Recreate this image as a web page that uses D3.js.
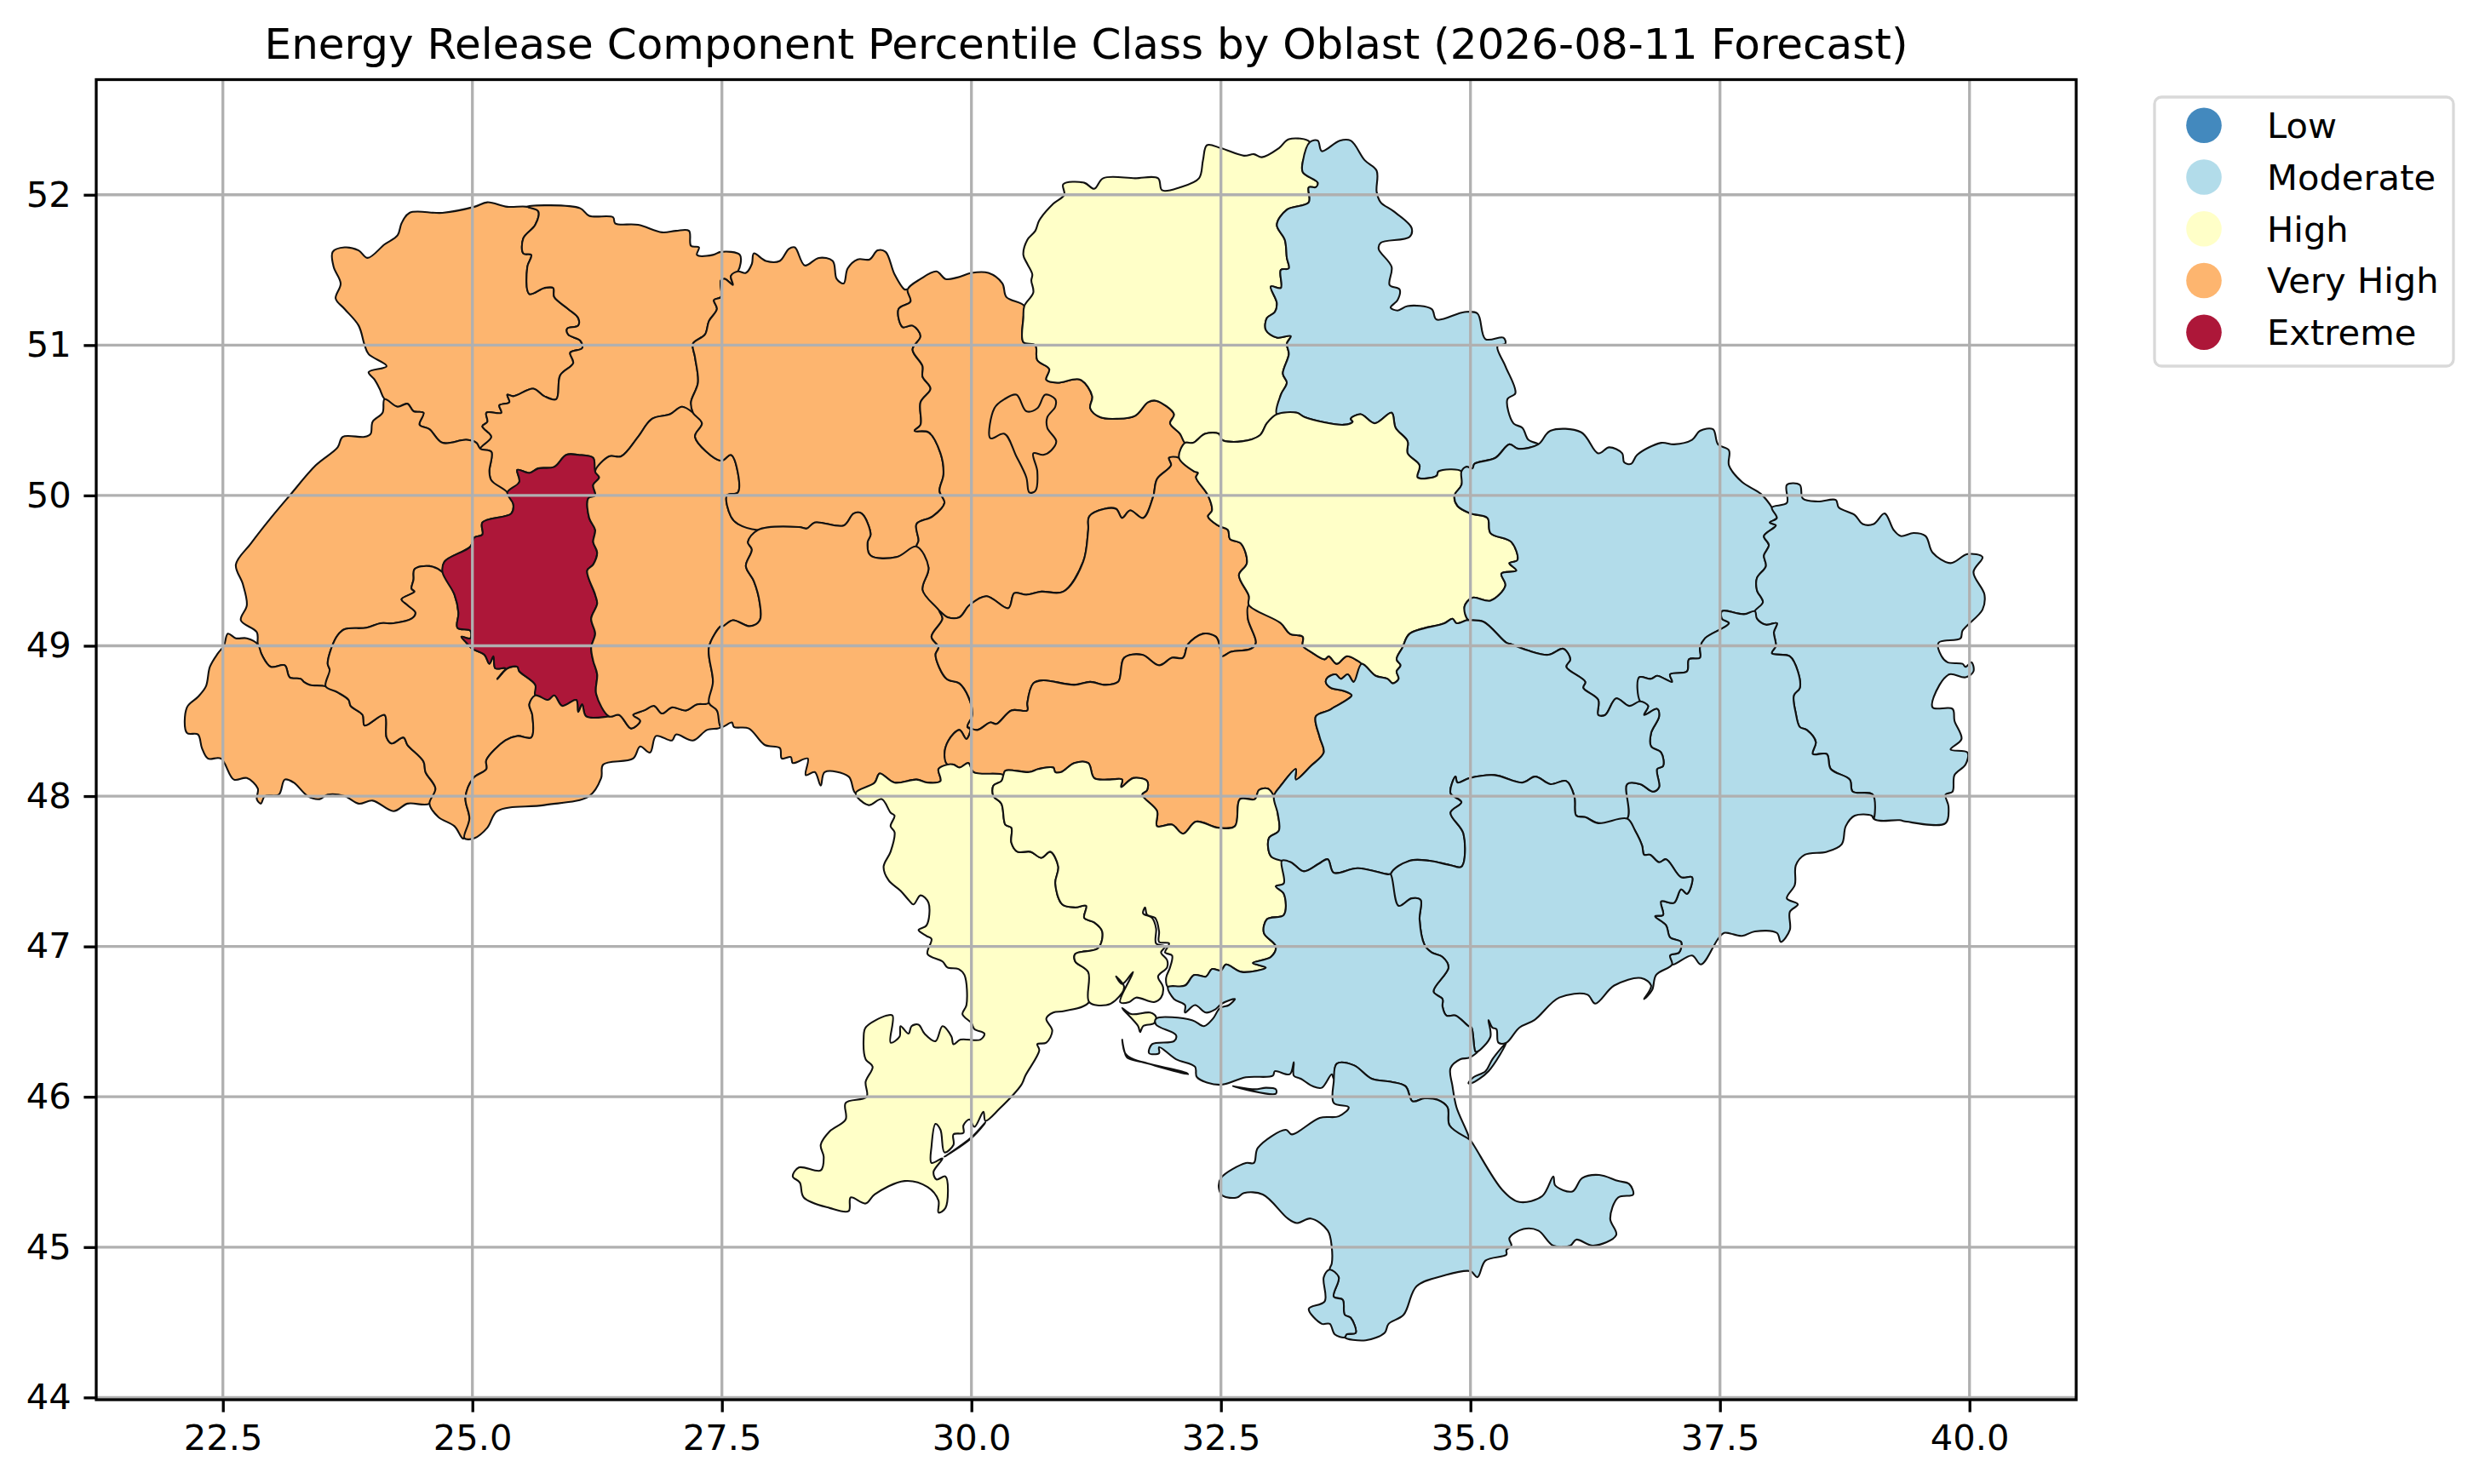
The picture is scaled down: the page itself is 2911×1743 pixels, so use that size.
<!DOCTYPE html>
<html>
<head>
<meta charset="utf-8">
<script src="https://d3js.org/d3.v7.min.js"></script>
<style>
  html, body { margin: 0; padding: 0; background: #fff; }
  svg { display: block; }
  text { font-family: "DejaVu Sans", sans-serif; fill: #000; }
</style>
</head>
<body>
<svg id="chart" width="2911" height="1743"></svg>
<script>
var chartTitle = 'Energy Release Component Percentile Class by Oblast (2026-08-11 Forecast)';
var classNames = ['Low', 'Moderate', 'High', 'Very High', 'Extreme'];
var classColors = ['#4389be', '#b2dcea', '#ffffc8', '#fdb56f', '#ad1739'];
var xTicks = [22.5, 25, 27.5, 30, 32.5, 35, 37.5, 40];
var yTicks = [44, 45, 46, 47, 48, 49, 50, 51, 52];

// borders as [lon, lat], shared between the two oblasts on each side
var volynWest = [[25.55,51.92],[25.35,51.92],[25.15,51.95],[25.02,51.92],[24.70,51.88],[24.37,51.88],[24.29,51.81],[24.25,51.73],[24.12,51.67],[23.95,51.58],[23.86,51.63],[23.72,51.65],[23.60,51.62],[23.61,51.52],[23.68,51.41],[23.63,51.31],[23.72,51.24],[23.86,51.13],[23.92,51.00],[23.96,50.94],[24.14,50.86],[23.96,50.82],[24.02,50.77],[24.07,50.71],[24.12,50.64]];
var volynLviv = [[24.12,50.64],[24.25,50.59],[24.35,50.61],[24.41,50.56],[24.51,50.55],[24.47,50.47],[24.57,50.44],[24.70,50.35],[24.94,50.37],[25.04,50.35],[25.08,50.31]];
var volynRivne = [[25.55,51.92],[25.66,51.89],[25.63,51.80],[25.51,51.71],[25.51,51.61],[25.59,51.60],[25.55,51.52],[25.57,51.34],[25.72,51.38],[25.81,51.38],[25.82,51.32],[25.96,51.24],[26.06,51.18],[26.06,51.13],[25.95,51.11],[25.96,51.07],[26.08,51.03],[26.10,50.98],[25.98,50.95],[26.01,50.88],[25.88,50.80],[25.84,50.64],[25.72,50.66],[25.61,50.71],[25.41,50.66],[25.35,50.67],[25.37,50.62],[25.27,50.60],[25.29,50.55],[25.14,50.55],[25.15,50.49],[25.10,50.46],[25.19,50.39],[25.08,50.31]];
var rivneNorth = [[25.55,51.92],[25.76,51.93],[26.08,51.91],[26.17,51.86],[26.41,51.85],[26.43,51.81],[26.66,51.80],[26.90,51.75],[27.04,51.76],[27.17,51.76],[27.19,51.66],[27.27,51.65],[27.25,51.60],[27.41,51.60],[27.49,51.62],[27.68,51.60],[27.66,51.49]];
var rivneZhytomyr = [[27.66,51.49],[27.59,51.46],[27.61,51.40],[27.53,51.44],[27.49,51.43],[27.49,51.32],[27.42,51.30],[27.45,51.24],[27.37,51.16],[27.33,51.07],[27.21,51.01],[27.23,50.92],[27.26,50.75],[27.19,50.62],[27.21,50.55]];
var rivneLviv = [[25.08,50.31],[25.19,50.29],[25.17,50.16],[25.19,50.10],[25.35,50.02]];
var rivneTernopil = [[25.35,50.02],[25.47,50.09],[25.45,50.17],[25.57,50.15],[25.66,50.18],[25.82,50.19],[25.94,50.27],[26.06,50.27],[26.21,50.25],[26.23,50.16]];
var rivneKhmelnytskyi = [[26.23,50.16],[26.37,50.26],[26.49,50.26],[26.66,50.39],[26.80,50.51],[26.98,50.54],[27.10,50.59],[27.21,50.55]];
var lvivWest = [[24.12,50.64],[24.10,50.55],[24.00,50.49],[23.98,50.41],[23.92,50.39],[23.70,50.39],[23.65,50.32],[23.43,50.20],[23.17,50.00],[22.98,49.85],[22.78,49.68],[22.63,49.54],[22.70,49.41],[22.74,49.27],[22.68,49.17],[22.84,49.09],[22.85,49.01]];
var lvivZakarpattia = [[22.85,49.01],[22.89,48.94],[22.98,48.86],[23.12,48.87],[23.17,48.79],[23.28,48.78],[23.31,48.76],[23.37,48.74],[23.53,48.73]];
var lvivFrankivsk = [[23.53,48.73],[23.57,48.84],[23.55,48.88],[23.59,48.99],[23.65,49.07],[23.72,49.11],[23.94,49.12],[24.08,49.15],[24.21,49.15],[24.39,49.18],[24.43,49.22],[24.35,49.27],[24.29,49.31],[24.42,49.36],[24.39,49.38],[24.41,49.44],[24.42,49.51],[24.57,49.53],[24.70,49.49]];
var lvivTernopil = [[25.35,50.02],[25.41,49.94],[25.39,49.88],[25.10,49.82],[25.10,49.74],[25.02,49.72],[24.98,49.66],[24.72,49.56],[24.70,49.49]];
var zakarpattiaOuter = [[22.85,49.01],[22.74,49.05],[22.63,49.05],[22.55,49.08],[22.51,49.00],[22.45,48.95],[22.37,48.86],[22.33,48.73],[22.25,48.66],[22.14,48.59],[22.14,48.42],[22.25,48.41],[22.29,48.32],[22.35,48.25],[22.48,48.25],[22.61,48.11],[22.74,48.12],[22.85,48.05],[22.84,47.98],[22.88,47.95],[22.92,48.00],[23.06,48.01],[23.12,48.11],[23.21,48.09],[23.35,48.00],[23.47,47.98],[23.55,48.01],[23.72,48.00],[23.86,47.95],[24.00,47.97],[24.21,47.90],[24.35,47.95],[24.57,47.95]];
var zakarpattiaFrankivsk = [[23.53,48.73],[23.65,48.69],[23.76,48.64],[23.78,48.60],[23.90,48.54],[23.92,48.47],[24.12,48.54],[24.14,48.39],[24.19,48.35],[24.31,48.39],[24.35,48.34],[24.51,48.23],[24.53,48.16],[24.63,48.05],[24.57,47.95]];
var frankivskSouth = [[24.57,47.95],[24.66,47.86],[24.82,47.80],[24.90,47.72],[24.92,47.72]];
var frankivskChernivtsi = [[24.92,47.72],[24.97,47.85],[24.93,47.99],[25.01,48.12],[25.14,48.18],[25.14,48.24],[25.33,48.37],[25.45,48.40],[25.59,48.39],[25.60,48.54],[25.57,48.61],[25.63,48.67]];
var frankivskTernopil = [[24.70,49.49],[24.82,49.34],[24.86,49.22],[24.85,49.12],[24.98,49.10],[24.98,49.05],[24.89,49.06],[24.94,49.02],[25.00,48.98],[25.12,48.94],[25.17,48.88],[25.21,48.93],[25.23,48.85],[25.33,48.85],[25.25,48.78],[25.35,48.85],[25.45,48.86],[25.47,48.83],[25.63,48.74],[25.63,48.67]];
var ternopilKhmelnytskyi = [[26.23,50.16],[26.27,50.12],[26.21,50.07],[26.23,50.00],[26.16,49.98],[26.17,49.85],[26.23,49.77],[26.21,49.69],[26.25,49.62],[26.21,49.54],[26.15,49.50],[26.23,49.34],[26.25,49.28],[26.19,49.18],[26.23,49.08],[26.19,48.99],[26.21,48.90],[26.25,48.81],[26.24,48.68],[26.37,48.53]];
var ternopilChernivtsi = [[25.63,48.67],[25.76,48.64],[25.82,48.67],[25.90,48.60],[26.04,48.64],[26.06,48.56],[26.10,48.61],[26.14,48.53],[26.37,48.53]];
var chernivtsiKhmelnytskyi = [[26.37,48.53],[26.47,48.54],[26.59,48.45],[26.68,48.50],[26.61,48.54],[26.72,48.57],[26.82,48.60],[26.90,48.55],[27.00,48.59],[27.14,48.57],[27.25,48.61],[27.37,48.62]];
var chernivtsiVinnytsia = [[27.37,48.62],[27.45,48.57],[27.49,48.46]];
var chernivtsiSouth = [[27.49,48.46],[27.35,48.44],[27.21,48.37],[27.04,48.41],[27.00,48.37],[26.84,48.40],[26.78,48.29],[26.68,48.33],[26.61,48.25],[26.31,48.21],[26.29,48.12],[26.17,48.00],[25.72,47.94],[25.25,47.90],[25.15,47.79],[25.02,47.72],[24.92,47.72]];
var khmelnytskyiZhytomyr = [[27.21,50.55],[27.30,50.48],[27.23,50.39],[27.49,50.23],[27.59,50.27],[27.66,50.15],[27.66,50.02],[27.55,50.00],[27.59,49.86],[27.66,49.81],[27.86,49.77]];
var khmelnytskyiVinnytsia = [[27.86,49.77],[27.76,49.69],[27.80,49.64],[27.74,49.53],[27.82,49.43],[27.88,49.28],[27.88,49.17],[27.78,49.13],[27.61,49.17],[27.51,49.13],[27.49,49.13],[27.37,48.99],[27.41,48.76],[27.37,48.62]];
var zhytomyrNorth = [[27.66,51.49],[27.74,51.48],[27.80,51.54],[27.82,51.61],[27.94,51.56],[28.08,51.56],[28.17,51.64],[28.23,51.65],[28.33,51.53],[28.47,51.58],[28.61,51.56],[28.65,51.44],[28.72,51.41],[28.76,51.51],[28.86,51.57],[28.98,51.57],[29.06,51.63],[29.14,51.62],[29.23,51.47],[29.33,51.37],[29.36,51.37]];
var kyivNorth = [[29.36,51.37],[29.49,51.44],[29.65,51.49],[29.74,51.44],[29.86,51.45],[30.00,51.48],[30.17,51.48],[30.31,51.41],[30.35,51.32],[30.53,51.26]];
var zhytomyrKyiv = [[29.36,51.37],[29.39,51.29],[29.27,51.24],[29.31,51.12],[29.41,51.13],[29.49,51.06],[29.41,50.97],[29.51,50.86],[29.51,50.79],[29.59,50.71],[29.49,50.62],[29.49,50.47],[29.43,50.43],[29.57,50.42],[29.69,50.28],[29.72,50.14],[29.68,50.03],[29.73,49.95],[29.61,49.86],[29.45,49.81],[29.47,49.70],[29.45,49.66]];
var zhytomyrVinnytsia = [[27.86,49.77],[28.27,49.79],[28.35,49.78],[28.43,49.82],[28.72,49.80],[28.82,49.88],[28.90,49.88],[28.99,49.74],[28.96,49.69],[28.99,49.60],[29.25,49.59],[29.45,49.66]];
var kyivVinnytsia = [[29.45,49.66],[29.57,49.52],[29.51,49.37],[29.68,49.23]];
var kyivCherkasy = [[29.68,49.23],[29.76,49.19],[29.88,49.19],[29.98,49.27],[30.15,49.33],[30.37,49.25],[30.43,49.35],[30.55,49.34],[30.70,49.36],[30.92,49.36],[31.12,49.56],[31.17,49.77],[31.18,49.86],[31.33,49.91],[31.45,49.91],[31.51,49.85],[31.59,49.90],[31.72,49.85],[31.82,49.99],[31.86,50.11],[32.00,50.20],[31.98,50.25],[32.08,50.25]];
var cherkasyPoltava = [[32.08,50.25],[32.23,50.16],[32.27,50.15],[32.25,50.12],[32.37,50.00],[32.41,49.90],[32.37,49.86],[32.47,49.80],[32.57,49.77],[32.59,49.71],[32.70,49.68],[32.76,49.55],[32.68,49.47],[32.78,49.33],[32.78,49.27]];
var vinnytsiaCherkasy = [[29.68,49.23],[29.71,49.18],[29.60,49.06],[29.67,48.99],[29.64,48.94],[29.75,48.78],[29.88,48.75],[29.97,48.66],[30.01,48.54],[29.96,48.46]];
var cherkasyKirovohrad = [[29.96,48.46],[30.06,48.44],[30.19,48.49],[30.25,48.48],[30.40,48.57],[30.56,48.57],[30.56,48.62],[30.62,48.75],[30.71,48.77],[31.03,48.74],[31.19,48.76],[31.34,48.74],[31.47,48.76],[31.53,48.92],[31.71,48.94],[31.88,48.87],[32.01,48.92],[32.12,48.92],[32.17,49.01],[32.32,49.08],[32.45,49.06],[32.49,48.99],[32.51,48.93],[32.60,48.96],[32.80,48.98],[32.85,49.02],[32.77,49.18],[32.78,49.27]];
var kirovohradPoltava = [[32.78,49.27],[33.10,49.15],[33.19,49.08],[33.32,49.06],[33.32,49.00],[33.40,48.96],[33.54,48.91],[33.58,48.93],[33.66,48.88],[33.76,48.93],[33.87,48.90],[33.91,48.88]];
var kirovohradDnipro = [[33.91,48.88],[33.83,48.76],[33.77,48.81],[33.70,48.78],[33.65,48.81],[33.57,48.79],[33.55,48.76],[33.60,48.72],[33.73,48.70],[33.81,48.67],[33.71,48.62],[33.63,48.59],[33.58,48.57],[33.45,48.53],[33.49,48.39],[33.53,48.29],[33.40,48.20],[33.25,48.11],[33.25,48.18],[33.10,48.07],[33.03,48.00]];
var vinnytsiaSouth = [[27.49,48.46],[27.60,48.49],[27.62,48.46],[27.77,48.45],[27.93,48.34],[28.08,48.32],[28.10,48.25],[28.19,48.26],[28.21,48.22],[28.36,48.25],[28.34,48.14],[28.43,48.16],[28.49,48.07],[28.53,48.16],[28.77,48.13],[28.84,48.02]];
var vinnytsiaOdesa = [[28.84,48.02],[29.03,48.09],[29.08,48.15],[29.23,48.09],[29.45,48.11],[29.56,48.09],[29.69,48.10],[29.67,48.18],[29.76,48.21]];
var vinnytsiaKirovohrad = [[29.76,48.21],[29.73,48.27],[29.77,48.37],[29.88,48.44],[29.95,48.38],[29.99,48.45],[29.96,48.46]];
var odesaKirovohrad = [[29.76,48.21],[29.82,48.21],[29.88,48.19],[29.97,48.22],[30.02,48.16],[30.32,48.14]];
var kirovohradMykolaiv = [[30.32,48.14],[30.34,48.17],[30.58,48.16],[30.67,48.18],[30.82,48.19],[30.84,48.16],[30.90,48.16],[31.03,48.22],[31.17,48.22],[31.23,48.12],[31.38,48.11],[31.51,48.11],[31.50,48.06],[31.62,48.12],[31.76,48.10],[31.76,48.04],[31.71,48.01],[31.86,47.90],[31.86,47.80],[32.01,47.81],[32.12,47.75],[32.25,47.83],[32.47,47.79],[32.64,47.80],[32.69,47.98],[32.84,47.98],[32.88,48.04],[32.97,48.05],[33.03,48.00]];
var odesaMykolaiv = [[30.32,48.14],[30.30,48.10],[30.22,48.07],[30.22,48.00],[30.30,47.95],[30.34,47.81],[30.40,47.79],[30.40,47.69],[30.46,47.63],[30.59,47.63],[30.70,47.59],[30.79,47.63],[30.87,47.53],[30.84,47.42],[30.91,47.28],[31.04,47.26],[31.15,47.27],[31.13,47.19],[31.23,47.16],[31.31,47.10],[31.27,46.99],[31.04,46.95],[31.04,46.90],[31.17,46.83],[31.18,46.63]];
var odesaOuter = [[28.84,48.02],[28.97,47.94],[29.10,47.98],[29.19,47.89],[29.23,47.87],[29.19,47.80],[29.23,47.76],[29.19,47.63],[29.12,47.53],[29.17,47.44],[29.29,47.37],[29.37,47.31],[29.42,47.28],[29.49,47.34],[29.57,47.29],[29.55,47.14],[29.47,47.11],[29.55,47.07],[29.60,47.05],[29.56,46.95],[29.71,46.90],[29.76,46.86],[29.87,46.85],[29.93,46.81],[29.95,46.61],[29.91,46.55],[30.00,46.49],[30.03,46.45],[30.13,46.42],[30.09,46.38],[29.89,46.38],[29.82,46.35],[29.80,46.40],[29.71,46.47],[29.64,46.37],[29.53,46.42],[29.47,46.48],[29.40,46.47],[29.37,46.42],[29.29,46.47],[29.28,46.40],[29.19,46.36],[29.21,46.54],[29.15,46.54],[28.94,46.46],[28.92,46.39],[28.94,46.25],[29.01,46.20],[28.94,46.10],[28.95,46.00],[28.74,45.96],[28.74,45.85],[28.58,45.77],[28.49,45.68],[28.52,45.60],[28.49,45.51],[28.27,45.53],[28.21,45.47],[28.28,45.43],[28.32,45.33],[28.58,45.26],[28.77,45.24],[28.79,45.33],[28.94,45.29],[29.03,45.35],[29.33,45.44],[29.56,45.40],[29.67,45.31],[29.67,45.23],[29.74,45.26],[29.74,45.47],[29.65,45.45],[29.62,45.50],[29.71,45.59],[29.60,45.56],[29.60,45.67],[29.64,45.82],[29.69,45.78],[29.73,45.63],[29.82,45.68],[29.82,45.75],[29.92,45.76],[29.92,45.81],[29.98,45.85],[30.03,45.80],[30.12,45.90],[30.14,45.84],[30.28,45.92],[30.50,46.08],[30.54,46.14],[30.68,46.31],[30.66,46.35],[30.75,46.36],[30.81,46.44],[30.75,46.52],[30.82,46.56],[30.93,46.57],[31.18,46.63]];
var odesaSpit = [[29.73,45.60],[30.00,45.73],[30.14,45.83],[30.13,45.82],[29.99,45.72]];
var mykolaivCoast = [[31.18,46.63],[31.35,46.61],[31.44,46.64],[31.53,46.73],[31.45,46.80],[31.51,46.75],[31.62,46.83],[31.49,46.63],[31.58,46.63],[31.65,46.66],[31.83,46.63],[31.90,46.66],[31.92,46.73],[31.87,46.80],[31.96,46.86],[31.96,46.91],[31.90,46.96],[31.94,47.00],[31.85,47.02],[31.85,47.12],[31.81,47.19],[31.72,47.22],[31.74,47.26],[31.76,47.21],[31.84,47.19],[31.88,47.10],[31.88,47.03],[31.98,47.02],[31.94,46.96],[32.01,46.94],[31.99,46.86],[31.95,46.79],[31.97,46.73]];
var mykolaivKherson = [[31.97,46.73],[32.14,46.74],[32.23,46.81],[32.35,46.80],[32.41,46.85],[32.50,46.84],[32.55,46.88],[32.71,46.83],[32.95,46.86],[32.82,46.89],[33.00,46.93],[33.05,47.00],[32.93,47.09],[32.96,47.18],[33.13,47.21],[33.13,47.35],[33.05,47.40],[33.13,47.42],[33.11,47.57]];
var mykolaivDnipro = [[33.03,48.00],[33.07,47.88],[33.08,47.77],[32.98,47.72],[33.00,47.60],[33.11,47.57]];
var dniproKherson = [[33.11,47.57],[33.20,47.56],[33.33,47.50],[33.48,47.55],[33.57,47.58],[33.63,47.49],[33.87,47.52],[34.17,47.48],[34.20,47.48]];
var dniproZaporizhzhia = [[34.20,47.48],[34.39,47.57],[34.59,47.57],[34.80,47.54],[34.91,47.53],[34.93,47.75],[34.80,47.89],[34.91,47.96],[34.80,48.02],[34.85,48.13],[34.87,48.09],[34.99,48.12],[35.24,48.14],[35.52,48.09],[35.65,48.13],[35.80,48.08],[35.96,48.10],[36.04,48.00],[36.06,47.87],[36.15,47.86],[36.28,47.82],[36.57,47.85]];
var dniproDonetsk = [[36.57,47.85],[36.57,48.08],[36.70,48.08],[36.83,48.03],[36.89,48.06],[36.87,48.18],[36.93,48.20],[36.91,48.29],[36.81,48.33],[36.81,48.42],[36.89,48.53],[36.87,48.58],[36.74,48.54],[36.78,48.60],[36.70,48.63]];
var kharkivDnipro = [[34.98,49.17],[35.13,49.16],[35.36,49.02],[35.41,49.01],[35.57,48.97],[35.78,48.94],[35.93,48.98],[36.00,48.91],[35.96,48.86],[36.15,48.76],[36.13,48.72],[36.28,48.64],[36.28,48.54],[36.35,48.54],[36.46,48.65],[36.59,48.60],[36.70,48.63]];
var kharkivDonetsk = [[36.70,48.63],[36.69,48.79],[36.81,48.78],[36.87,48.80],[37.02,48.76],[37.00,48.81],[37.17,48.83],[37.19,48.91],[37.30,48.92],[37.30,48.99],[37.35,49.05],[37.59,49.15],[37.52,49.18],[37.52,49.23],[37.74,49.21],[37.85,49.23]];
var kharkivLuhansk = [[37.85,49.23],[37.93,49.29],[37.87,49.37],[37.87,49.45],[37.96,49.53],[37.94,49.60],[37.99,49.67],[37.94,49.73],[38.06,49.80],[38.00,49.82],[38.07,49.85],[38.02,49.92]];
var kharkivNorth = [[35.68,50.34],[35.80,50.43],[36.11,50.42],[36.28,50.28],[36.39,50.32],[36.52,50.28],[36.54,50.22],[36.61,50.21],[36.67,50.27],[36.91,50.35],[37.04,50.34],[37.22,50.37],[37.30,50.43],[37.43,50.44],[37.48,50.34],[37.59,50.30],[37.59,50.20],[37.72,50.09],[37.91,50.01],[38.02,49.92]];
var sumyKharkiv = [[34.91,50.16],[34.96,50.19],[35.02,50.18],[35.04,50.21],[35.25,50.25],[35.39,50.34],[35.48,50.31],[35.68,50.34]];
var poltavaKharkiv = [[34.91,50.16],[34.91,50.07],[34.84,50.00],[34.87,49.93],[35.00,49.88],[35.17,49.85],[35.20,49.75],[35.41,49.69],[35.47,49.57],[35.39,49.55],[35.46,49.50],[35.31,49.48],[35.35,49.40],[35.20,49.30],[35.02,49.32],[34.94,49.26],[34.98,49.17]];
var poltavaDnipro = [[33.91,48.88],[34.05,48.80],[34.17,48.78],[34.22,48.75],[34.28,48.78],[34.26,48.83],[34.30,48.87],[34.26,48.91],[34.32,48.99],[34.39,49.08],[34.74,49.15],[34.82,49.18],[34.86,49.15],[34.96,49.17],[34.98,49.17]];
var sumyPoltava = [[33.06,50.54],[33.26,50.55],[33.34,50.52],[33.73,50.47],[33.82,50.49],[33.80,50.51],[33.90,50.54],[34.04,50.48],[34.21,50.55],[34.25,50.45],[34.37,50.36],[34.37,50.28],[34.49,50.20],[34.47,50.12],[34.66,50.13],[34.68,50.16],[34.91,50.16]];
var chernihivPoltava = [[32.14,50.35],[32.22,50.35],[32.34,50.41],[32.48,50.41],[32.51,50.37],[32.71,50.36],[32.89,50.40],[32.96,50.48],[33.06,50.54]];
var kyivChernihiv = [[30.53,51.26],[30.52,51.18],[30.52,51.02],[30.64,51.00],[30.66,50.90],[30.78,50.84],[30.75,50.77],[30.86,50.75],[31.09,50.77],[31.21,50.66],[31.19,50.58],[31.29,50.52],[31.46,50.51],[31.64,50.53],[31.77,50.62],[31.85,50.63],[32.03,50.54],[31.99,50.48],[32.09,50.41],[32.14,50.35]];
var kyivPoltava = [[32.14,50.35],[32.08,50.25]];
var chernihivOuter = [[30.53,51.26],[30.62,51.35],[30.60,51.43],[30.61,51.47],[30.56,51.54],[30.52,51.60],[30.56,51.70],[30.64,51.76],[30.68,51.83],[30.82,51.94],[30.93,52.00],[30.92,52.07],[31.13,52.08],[31.23,52.04],[31.32,52.11],[31.64,52.11],[31.87,52.11],[31.91,52.03],[32.09,52.05],[32.28,52.11],[32.32,52.23],[32.36,52.33],[32.50,52.31],[32.73,52.26],[32.83,52.27],[32.91,52.25],[33.08,52.31],[33.18,52.37],[33.39,52.35]];
var chernihivSumy = [[33.39,52.35],[33.32,52.22],[33.32,52.15],[33.47,52.08],[33.45,52.05],[33.38,52.05],[33.38,51.95],[33.16,51.90],[33.06,51.80],[33.14,51.70],[33.16,51.58],[33.18,51.51],[33.10,51.50],[33.10,51.38],[33.00,51.39],[33.06,51.28],[33.04,51.22],[32.96,51.18],[32.95,51.10],[33.06,51.05],[33.20,51.06],[33.16,51.01],[33.18,50.94],[33.12,50.81],[33.16,50.75],[33.10,50.67],[33.06,50.54]];
var sumyOuter = [[33.39,52.35],[33.47,52.36],[33.51,52.29],[33.69,52.36],[33.80,52.36],[33.94,52.23],[34.06,52.16],[34.06,52.02],[34.10,51.95],[34.23,51.89],[34.41,51.78],[34.39,51.72],[34.10,51.68],[34.08,51.64],[34.21,51.52],[34.19,51.40],[34.29,51.37],[34.27,51.30],[34.20,51.25],[34.27,51.23],[34.37,51.26],[34.61,51.24],[34.66,51.17],[34.94,51.22],[35.07,51.21],[35.15,51.04],[35.33,51.05],[35.35,51.01],[35.27,50.99],[35.35,50.86],[35.45,50.68],[35.37,50.64],[35.43,50.48],[35.52,50.45],[35.58,50.37],[35.68,50.34]];
var luhanskOuter = [[38.02,49.92],[38.17,49.95],[38.17,50.07],[38.30,50.07],[38.33,49.98],[38.48,49.96],[38.66,49.97],[38.69,49.92],[38.85,49.87],[38.93,49.81],[39.04,49.81],[39.15,49.88],[39.24,49.77],[39.31,49.73],[39.44,49.75],[39.56,49.73],[39.63,49.62],[39.81,49.55],[39.98,49.61],[40.13,49.59],[40.04,49.49],[40.15,49.34],[40.13,49.24],[39.93,49.10],[39.91,49.05],[39.69,49.02],[39.72,48.93],[39.78,48.89],[39.93,48.88],[39.96,48.86],[40.02,48.89],[40.04,48.83],[39.96,48.79],[39.80,48.81],[39.70,48.74],[39.63,48.59],[39.83,48.58],[39.85,48.50],[39.92,48.38],[39.81,48.31],[39.98,48.29],[39.96,48.21],[39.85,48.14],[39.83,48.03],[39.76,48.01],[39.79,47.93],[39.76,47.82],[39.37,47.83],[39.30,47.84],[39.04,47.85]];
var luhanskDonetsk = [[37.85,49.23],[37.87,49.18],[37.96,49.14],[38.07,49.15],[38.04,49.09],[38.06,49.00],[38.02,48.95],[38.20,48.93],[38.28,48.83],[38.30,48.72],[38.24,48.67],[38.26,48.55],[38.30,48.46],[38.37,48.44],[38.46,48.36],[38.43,48.28],[38.57,48.28],[38.61,48.18],[38.80,48.11],[38.83,48.03],[39.03,48.01],[39.04,47.85]];
var donetskZaporizhzhia = [[36.57,47.85],[36.65,47.77],[36.72,47.67],[36.74,47.61],[36.80,47.61],[36.89,47.56],[36.96,47.58],[37.11,47.46],[37.22,47.46],[37.17,47.35],[37.11,47.38],[37.04,47.29],[36.91,47.30],[36.93,47.21],[36.85,47.20],[36.96,47.14],[37.00,47.06],[37.11,47.03],[37.09,46.96],[37.00,46.94],[37.02,46.88]];
var donetskCoast = [[37.02,46.88],[37.22,46.94],[37.31,46.88],[37.48,47.05],[37.54,47.09],[37.72,47.07],[37.85,47.10],[38.07,47.09],[38.11,47.03],[38.20,47.11],[38.20,47.23],[38.28,47.28],[38.17,47.32],[38.25,47.41],[38.26,47.54],[38.35,47.61],[38.57,47.63],[38.72,47.68],[38.76,47.80],[38.85,47.87],[39.02,47.87],[39.04,47.85]];
var zaporizhzhiaCoast = [[35.07,46.30],[35.20,46.40],[35.18,46.51],[35.22,46.46],[35.26,46.45],[35.28,46.36],[35.36,46.36],[35.49,46.46],[35.64,46.51],[35.89,46.66],[36.17,46.68],[36.25,46.62],[36.44,46.74],[36.71,46.79],[36.81,46.74],[36.74,46.65],[36.82,46.71],[36.86,46.81],[37.02,46.88]];
var khersonZaporizhzhia = [[34.20,47.48],[34.28,47.27],[34.41,47.32],[34.50,47.31],[34.49,47.18],[34.54,47.01],[34.61,46.96],[34.72,46.93],[34.78,46.86],[34.63,46.70],[34.72,46.65],[34.72,46.60],[34.76,46.54],[34.85,46.54],[34.98,46.47],[35.01,46.46],[35.05,46.30],[35.07,46.30]];
var khersonSivash = [[35.07,46.30],[34.99,46.26],[34.90,46.25],[34.80,46.19],[34.82,46.07],[34.86,45.93],[34.98,45.72]];
var khersonCrimea = [[33.66,46.22],[33.83,46.21],[34.01,46.12],[34.20,46.10],[34.35,46.07],[34.42,45.97],[34.54,45.99],[34.67,45.98],[34.77,45.93],[34.79,45.81],[34.98,45.72]];
var khersonCoast = [[31.97,46.73],[32.03,46.65],[32.14,46.61],[32.14,46.56],[32.24,46.61],[32.35,46.56],[32.44,46.58],[32.51,46.62],[32.64,46.65],[32.58,46.61],[32.49,46.59],[32.42,46.52],[32.33,46.47],[32.21,46.51],[31.85,46.52],[31.85,46.48],[32.05,46.41],[32.03,46.37],[31.81,46.35],[31.78,46.29],[31.88,46.29],[31.88,46.33],[32.05,46.25],[32.24,46.20],[32.26,46.13],[32.49,46.08],[32.75,46.13],[33.02,46.14],[33.04,46.17],[33.19,46.15],[33.23,46.23],[33.23,46.14],[33.30,46.12],[33.42,46.07],[33.51,46.06],[33.61,46.15],[33.63,46.12],[33.66,46.22]];
var crimeaEast = [[34.98,45.72],[35.00,45.71],[35.32,45.38],[35.49,45.30],[35.72,45.34],[35.83,45.47],[35.85,45.41],[36.02,45.37],[36.12,45.46],[36.29,45.48],[36.48,45.44],[36.59,45.42],[36.63,45.35],[36.48,45.33],[36.40,45.19],[36.46,45.08],[36.23,45.01],[36.06,45.05],[36.00,45.01],[35.83,45.01],[35.68,45.11],[35.53,45.12],[35.39,45.06],[35.41,45.01],[35.36,44.98],[35.36,44.95],[35.15,44.91],[35.07,44.80],[35.00,44.84],[34.73,44.81],[34.46,44.74],[34.33,44.55],[34.18,44.49],[34.14,44.43],[33.95,44.38],[33.74,44.40]];
var crimeaSevastopol = [[33.74,44.40],[33.76,44.42],[33.85,44.43],[33.80,44.53],[33.74,44.55],[33.72,44.65],[33.63,44.67],[33.68,44.80],[33.59,44.85]];
var crimeaWest = [[33.59,44.85],[33.61,44.89],[33.61,45.00],[33.57,45.11],[33.40,45.19],[33.26,45.16],[33.17,45.19],[32.92,45.35],[32.73,45.36],[32.66,45.33],[32.52,45.34],[32.48,45.39],[32.50,45.46],[32.75,45.56],[32.83,45.56],[32.87,45.66],[33.15,45.78],[33.21,45.75],[33.49,45.86],[33.68,45.87],[33.78,45.93],[33.63,45.96],[33.63,46.10],[33.66,46.22]];
var sevastopolWest = [[33.59,44.85],[33.53,44.80],[33.54,44.64],[33.38,44.59],[33.51,44.49],[33.59,44.49],[33.64,44.42],[33.74,44.40]];
var kyivCity = [[30.33,50.64],[30.45,50.67],[30.55,50.56],[30.66,50.58],[30.74,50.67],[30.84,50.64],[30.84,50.59],[30.76,50.52],[30.76,50.45],[30.85,50.36],[30.80,50.30],[30.72,50.27],[30.62,50.28],[30.66,50.16],[30.64,50.03],[30.58,50.02],[30.55,50.12],[30.45,50.26],[30.33,50.41],[30.19,50.38],[30.23,50.58]];
var kinburn = [[31.51,46.59],[31.60,46.55],[31.79,46.56],[31.85,46.53],[31.83,46.49],[31.72,46.47],[31.69,46.43],[31.67,46.47]];
var tendraSpit = [[31.51,46.38],[31.54,46.29],[31.62,46.25],[32.15,46.16],[32.17,46.15],[31.72,46.23],[31.56,46.26],[31.53,46.31]];
var dzharylhach = [[32.62,46.07],[32.84,46.05],[32.95,46.06],[33.05,46.05],[33.05,46.02]];
var henicheskSpit = [[35.36,46.36],[35.22,46.25],[35.15,46.17],[35.03,46.13],[34.98,46.09],[35.01,46.09],[35.18,46.17]];

function rev(a) { return a.slice().reverse(); }

// each oblast: name, class index into classNames, rings made of the borders above
var oblasts = [
   ['Volyn', 3, [[volynWest, volynLviv, rev(volynRivne)]]],
   ['Rivne', 3, [[rivneNorth, rivneZhytomyr, rev(rivneKhmelnytskyi), rev(rivneTernopil), rev(rivneLviv), rev(volynRivne)]]],
   ['Lviv', 3, [[lvivWest, lvivZakarpattia, lvivFrankivsk, rev(lvivTernopil), rev(rivneLviv), rev(volynLviv)]]],
   ['Zakarpattia', 3, [[zakarpattiaOuter, rev(zakarpattiaFrankivsk), rev(lvivZakarpattia)]]],
   ['Ivano-Frankivsk', 3, [[zakarpattiaFrankivsk, frankivskSouth, frankivskChernivtsi, rev(frankivskTernopil), rev(lvivFrankivsk)]]],
   ['Ternopil', 4, [[rivneTernopil, ternopilKhmelnytskyi, rev(ternopilChernivtsi), rev(frankivskTernopil), rev(lvivTernopil)]]],
   ['Chernivtsi', 3, [[ternopilChernivtsi, chernivtsiKhmelnytskyi, chernivtsiVinnytsia, chernivtsiSouth, frankivskChernivtsi]]],
   ['Khmelnytskyi', 3, [[rivneKhmelnytskyi, khmelnytskyiZhytomyr, khmelnytskyiVinnytsia, rev(chernivtsiKhmelnytskyi), rev(ternopilKhmelnytskyi)]]],
   ['Zhytomyr', 3, [[zhytomyrNorth, zhytomyrKyiv, rev(zhytomyrVinnytsia), rev(khmelnytskyiZhytomyr), rev(rivneZhytomyr)]]],
   ['Kyiv', 3, [[kyivNorth, kyivChernihiv, kyivPoltava, rev(kyivCherkasy), rev(kyivVinnytsia), rev(zhytomyrKyiv)]]],
   ['Vinnytsia', 3, [[zhytomyrVinnytsia, kyivVinnytsia, vinnytsiaCherkasy, rev(vinnytsiaKirovohrad), rev(vinnytsiaOdesa), rev(vinnytsiaSouth), rev(chernivtsiVinnytsia), rev(khmelnytskyiVinnytsia)]]],
   ['Cherkasy', 3, [[kyivCherkasy, cherkasyPoltava, rev(cherkasyKirovohrad), rev(vinnytsiaCherkasy)]]],
   ['Kirovohrad', 3, [[cherkasyKirovohrad, kirovohradPoltava, kirovohradDnipro, rev(kirovohradMykolaiv), rev(odesaKirovohrad), vinnytsiaKirovohrad]]],
   ['Odesa', 2, [[vinnytsiaOdesa, odesaKirovohrad, odesaMykolaiv, rev(odesaOuter)], [odesaSpit]]],
   ['Mykolaiv', 2, [[kirovohradMykolaiv, mykolaivDnipro, rev(mykolaivKherson), rev(mykolaivCoast), rev(odesaMykolaiv)], [kinburn]]],
   ['Chernihiv', 2, [[chernihivOuter, chernihivSumy, rev(chernihivPoltava), rev(kyivChernihiv)]]],
   ['Sumy', 1, [[sumyOuter, rev(sumyKharkiv), rev(sumyPoltava), rev(chernihivSumy)]]],
   ['Poltava', 2, [[chernihivPoltava, sumyPoltava, poltavaKharkiv, rev(poltavaDnipro), rev(kirovohradPoltava), rev(cherkasyPoltava), rev(kyivPoltava)]]],
   ['Kharkiv', 1, [[sumyKharkiv, kharkivNorth, rev(kharkivLuhansk), rev(kharkivDonetsk), rev(kharkivDnipro), rev(poltavaKharkiv)]]],
   ['Luhansk', 1, [[kharkivLuhansk, luhanskOuter, rev(luhanskDonetsk)]]],
   ['Donetsk', 1, [[dniproDonetsk, kharkivDonetsk, luhanskDonetsk, rev(donetskCoast), rev(donetskZaporizhzhia)]]],
   ['Dnipropetrovsk', 1, [[poltavaDnipro, kharkivDnipro, rev(dniproDonetsk), rev(dniproZaporizhzhia), rev(dniproKherson), rev(mykolaivDnipro), rev(kirovohradDnipro)]]],
   ['Zaporizhzhia', 1, [[dniproZaporizhzhia, donetskZaporizhzhia, rev(zaporizhzhiaCoast), rev(khersonZaporizhzhia)]]],
   ['Kherson', 1, [[khersonZaporizhzhia, khersonSivash, rev(khersonCrimea), rev(khersonCoast), mykolaivKherson, dniproKherson], [tendraSpit], [dzharylhach], [henicheskSpit]]],
   ['Crimea', 1, [[khersonCrimea, crimeaEast, crimeaSevastopol, crimeaWest]]],
   ['Sevastopol', 1, [[rev(crimeaSevastopol), rev(sevastopolWest)]]],
   ['Kyiv City', 3, [[kyivCity]]]
];

var svg = d3.select('#chart');
var plot = { left: 113, right: 2438, top: 93.5, bottom: 1644 };

var x = d3.scaleLinear().domain([21.231, 41.069]).range([plot.left, plot.right]);
var y = d3.scaleLinear().domain([43.985, 52.766]).range([plot.bottom, plot.top]);
// borders in the picture are rounded, so smooth the traced points a little
var line = d3.line()
   .x(function(d) { return x(d[0]); })
   .y(function(d) { return y(d[1]); })
   .curve(d3.curveCatmullRomClosed.alpha(0.5));

function ringPath(parts) {
   var pts = d3.merge(parts).filter(function(p, i, all) {
      var prev = all[(i + all.length - 1) % all.length];
      return p[0] !== prev[0] || p[1] !== prev[1];
   });
   return line(pts);
}

svg.append('rect').attr('width', 2911).attr('height', 1743).attr('fill', '#fff');

// map
svg.append('g').selectAll('path')
   .data(oblasts)
   .enter()
   .append('path')
   .attr('d', function(d) { return d[2].map(ringPath).join(''); })
   .attr('fill', function(d) { return classColors[d[1]]; })
   .attr('stroke', '#111')
   .attr('stroke-width', 2.1)
   .attr('stroke-linejoin', 'round');

// grid sits on top of the polygons
var grid = svg.append('g');
grid.selectAll('line.gx').data(xTicks).enter().append('line')
   .attr('x1', x).attr('x2', x).attr('y1', plot.top).attr('y2', plot.bottom);
grid.selectAll('line.gy').data(yTicks).enter().append('line')
   .attr('y1', y).attr('y2', y).attr('x1', plot.left).attr('x2', plot.right);
grid.selectAll('line').attr('stroke', '#b0b0b0').attr('stroke-width', 3.3);

// axes
var xAxis = d3.axisBottom(x).tickValues(xTicks).tickFormat(d3.format('.1f')).tickSize(14.6).tickPadding(14.6);
var yAxis = d3.axisLeft(y).tickValues(yTicks).tickFormat(d3.format('d')).tickSize(14.6).tickPadding(14.6);
var gx = svg.append('g').attr('transform', 'translate(0,' + plot.bottom + ')').call(xAxis);
var gy = svg.append('g').attr('transform', 'translate(' + plot.left + ',0)').call(yAxis);
[gx, gy].forEach(function(g) {
   g.select('.domain').remove();
   g.selectAll('line').attr('stroke', '#000').attr('stroke-width', 3.3);
   g.selectAll('text').attr('font-size', 41.67).attr('font-family', '"DejaVu Sans", sans-serif').attr('fill', '#000');
});

svg.append('rect')
   .attr('x', plot.left).attr('y', plot.top)
   .attr('width', plot.right - plot.left).attr('height', plot.bottom - plot.top)
   .attr('fill', 'none').attr('stroke', '#000').attr('stroke-width', 3.3);

svg.append('text')
   .attr('x', (plot.left + plot.right) / 2).attr('y', 69)
   .attr('text-anchor', 'middle').attr('font-size', 50)
   .text(chartTitle);

// legend
var legend = svg.append('g');
legend.append('rect')
   .attr('x', 2530).attr('y', 114).attr('width', 351).attr('height', 316).attr('rx', 8)
   .attr('fill', '#fff').attr('stroke', '#d9d9d9').attr('stroke-width', 3.3);
var rowY = d3.scaleLinear().domain([0, 4]).range([147.3, 390.3]);
var rows = legend.selectAll('g').data(classNames).enter().append('g');
rows.append('circle')
   .attr('cx', 2588).attr('cy', function(d, i) { return rowY(i); }).attr('r', 20.8)
   .attr('fill', function(d, i) { return classColors[i]; });
rows.append('text')
   .attr('x', 2662).attr('y', function(d, i) { return rowY(i) + 14.7; })
   .attr('font-size', 41.67)
   .text(function(d) { return d; });
</script>
</body>
</html>
